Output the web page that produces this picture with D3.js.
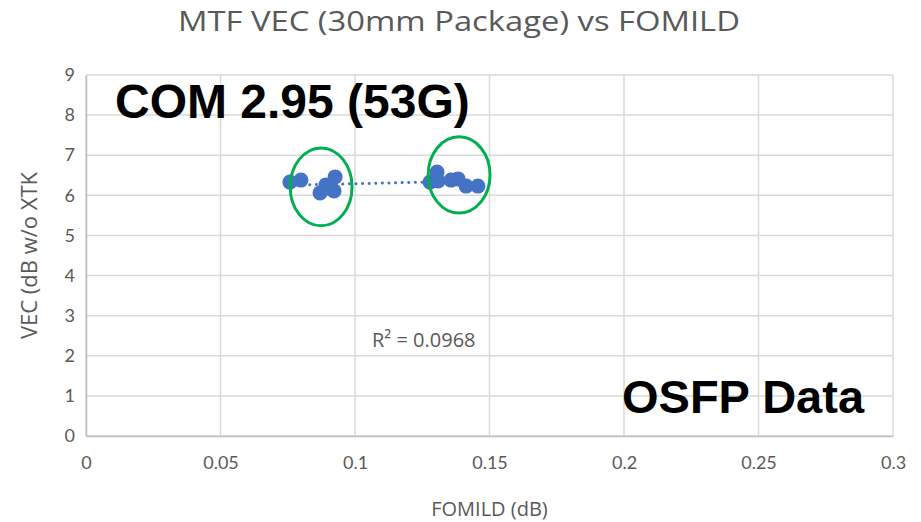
<!DOCTYPE html>
<html>
<head>
<meta charset="utf-8">
<script src="https://cdn.jsdelivr.net/npm/d3@7"></script>
<style>
  html, body { margin: 0; padding: 0; background: #fff; }
  svg { display: block; }
</style>
</head>
<body>
<div id="chart"></div>
<script>
// FOMILD (dB) vs VEC (dB w/o XTK) measurements
const fomild = [0.0758, 0.0799, 0.0870, 0.0896, 0.0926, 0.0922, 0.0892,
                0.1279, 0.1305, 0.1309, 0.1357, 0.1383, 0.1413, 0.1457];
const vec    = [6.33, 6.38, 6.06, 6.18, 6.46, 6.11, 6.26,
                6.33, 6.58, 6.36, 6.38, 6.41, 6.23, 6.23];

const xTicks = [0, 0.05, 0.1, 0.15, 0.2, 0.25, 0.3];
const yTicks = [0, 1, 2, 3, 4, 5, 6, 7, 8, 9];

// Highlight ellipses around the two clusters (data units)
const ringCx = [0.0874, 0.1387];
const ringCy = [6.21, 6.51];
const ringRx = [0.0115, 0.0115];
const ringRy = [0.97, 0.95];

const W = 921, H = 522;
const m = { left: 86, right: 28, top: 75, bottom: 86 };

const svg = d3.select("#chart").append("svg")
  .attr("width", W).attr("height", H);

const x = d3.scaleLinear().domain([0, 0.3]).range([m.left, W - m.right]);
const y = d3.scaleLinear().domain([0, 9]).range([H - m.bottom, m.top]);

const grey = "#595959";
const gridCol = "#d9d9d9";
const font = "Lato, 'Open Sans', sans-serif";
const font2 = "'Open Sans', Lato, sans-serif";

// Gridlines
svg.append("g").selectAll("line.h").data(yTicks).join("line")
  .attr("x1", x(0)).attr("x2", x(0.3))
  .attr("y1", d => y(d)).attr("y2", d => y(d))
  .attr("stroke", gridCol).attr("stroke-width", 1.5);
svg.append("g").selectAll("line.v").data(xTicks).join("line")
  .attr("x1", d => x(d)).attr("x2", d => x(d))
  .attr("y1", y(0)).attr("y2", y(9))
  .attr("stroke", gridCol).attr("stroke-width", 1.5);

// Axes
const xAxis = svg.append("g")
  .attr("transform", `translate(0,${y(0)})`)
  .call(d3.axisBottom(x).tickValues(xTicks).tickSize(0).tickPadding(20)
        .tickFormat(d => String(d)));
const yAxis = svg.append("g")
  .attr("transform", `translate(${x(0)},0)`)
  .call(d3.axisLeft(y).tickValues(yTicks).tickSize(0).tickPadding(11)
        .tickFormat(d => String(d)));
[xAxis, yAxis].forEach(g => {
  g.select(".domain").attr("stroke", "#bfbfbf").attr("stroke-width", 1.5);
  g.selectAll("text").attr("fill", grey).style("font-family", font)
    .style("font-size", "18px");
});

// Axis titles
svg.append("text")
  .attr("x", (x(0) + x(0.3)) / 2).attr("y", 516)
  .attr("text-anchor", "middle").attr("fill", grey)
  .style("font-family", font2).style("font-size", "20px")
  .text("FOMILD (dB)");
svg.append("text")
  .attr("transform", `translate(37,${(y(0) + y(9)) / 2}) rotate(-90)`)
  .attr("text-anchor", "middle").attr("fill", grey)
  .style("font-family", font2).style("font-size", "22px")
  .text("VEC (dB w/o XTK");

// Chart title
svg.append("text")
  .attr("x", 459).attr("y", 31)
  .attr("text-anchor", "middle").attr("fill", grey)
  .style("font-family", font2).style("font-size", "28px")
  .attr("textLength", 562).attr("lengthAdjust", "spacingAndGlyphs")
  .text("MTF VEC (30mm Package) vs FOMILD");

// Linear trendline (least squares)
const pts = fomild.map((v, i) => [v, vec[i]]);
const mx = d3.mean(fomild), my = d3.mean(vec);
const sxy = d3.sum(pts, p => (p[0] - mx) * (p[1] - my));
const sxx = d3.sum(pts, p => (p[0] - mx) ** 2);
const slope = sxy / sxx, icpt = my - slope * mx;
const [xMin, xMax] = d3.extent(fomild);

// Points
svg.append("g").selectAll("circle").data(pts).join("circle")
  .attr("cx", d => x(d[0])).attr("cy", d => y(d[1]))
  .attr("r", 7.5).attr("fill", "#4472c4");

svg.append("line")
  .attr("x1", x(xMin)).attr("y1", y(slope * xMin + icpt))
  .attr("x2", x(xMax)).attr("y2", y(slope * xMax + icpt))
  .attr("stroke", "#4472c4").attr("stroke-width", 3)
  .attr("stroke-linecap", "round").attr("stroke-dasharray", "0.1 6.5");

svg.append("text")
  .attr("x", 372).attr("y", 347)
  .attr("fill", grey).style("font-family", font2).style("font-size", "20px")
  .text("R² = 0.0968");

// Cluster rings
svg.append("g").selectAll("ellipse").data(ringCx).join("ellipse")
  .attr("cx", d => x(d))
  .attr("cy", (d, i) => y(ringCy[i]))
  .attr("rx", (d, i) => x(ringRx[i]) - x(0))
  .attr("ry", (d, i) => y(0) - y(ringRy[i]))
  .attr("fill", "none").attr("stroke", "#00b050").attr("stroke-width", 3);

// Annotations
svg.append("text")
  .attr("x", 115).attr("y", 118)
  .attr("fill", "#000").style("font-family", "'Liberation Sans', Arial, sans-serif")
  .style("font-weight", "bold").style("font-size", "48px")
  .text("COM 2.95 (53G)");
svg.append("text")
  .attr("x", 622).attr("y", 413)
  .attr("fill", "#000").style("font-family", "'Liberation Sans', Arial, sans-serif")
  .style("font-weight", "bold").style("font-size", "47px")
  .text("OSFP Data");
</script>
</body>
</html>
